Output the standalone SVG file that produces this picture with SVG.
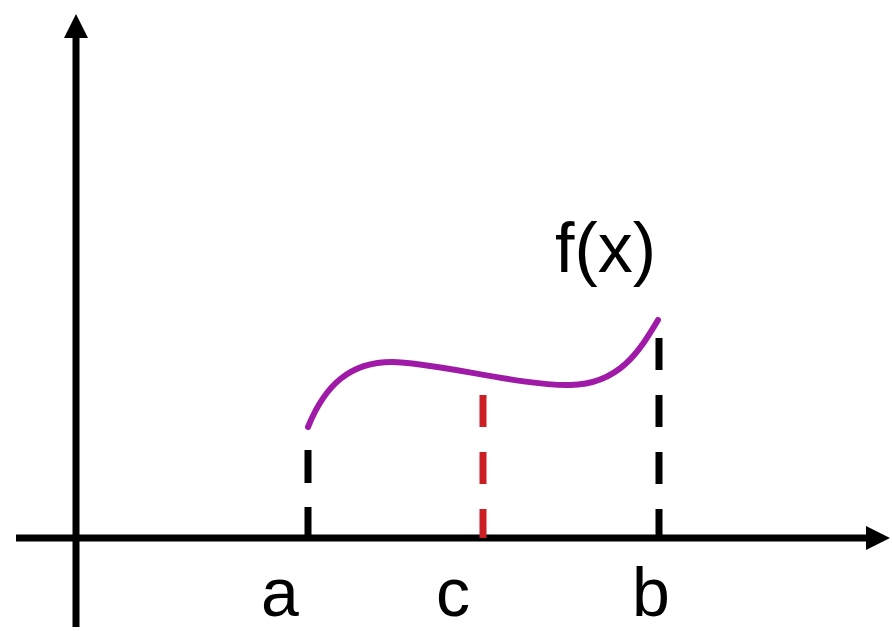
<svg xmlns="http://www.w3.org/2000/svg" width="892" height="631" viewBox="0 0 892 631">
  <style>
    .axis { stroke: #000; stroke-width: 7; fill: none; }
    .drop { stroke-width: 7; stroke-dasharray: 32 25; fill: none; }
    .lbl { font-family: "Liberation Sans", Arial, sans-serif; font-size: 70px; fill: #000; }
    .tick { font-size: 68px; }
  </style>
  <defs>
    <marker id="arrow" viewBox="0 0 24 24" markerWidth="24" markerHeight="24" refX="1" refY="12" orient="auto" markerUnits="userSpaceOnUse">
      <path d="M0,0 L24,12 L0,24 z" fill="#000"/>
    </marker>
  </defs>
  <rect width="892" height="631" fill="#fff"/>
  <g id="connectors">
    <line id="y-axis" class="axis" x1="76" y1="627" x2="76" y2="37" marker-end="url(#arrow)"/>
    <line id="x-axis" class="axis" x1="16" y1="538" x2="867" y2="538" marker-end="url(#arrow)"/>
    <line id="drop-a" class="drop" stroke="#000" x1="308" y1="450" x2="308" y2="538" style="stroke-dasharray:33 24"/>
    <line id="drop-c" class="drop" stroke="#cc1f24" x1="483" y1="395" x2="483" y2="538"/>
    <line id="drop-b" class="drop" stroke="#000" x1="659" y1="338" x2="659" y2="538"/>
  </g>
  <g id="curve">
    <path d="M308,427 C325,385 350,362 392,362 S520,386 570,385 S640,350 658,320" fill="none" stroke="#a01aa8" stroke-width="6" stroke-linecap="round"/>
  </g>
  <g id="labels">
    <text id="label-fx" class="lbl" x="555" y="272">f(x)</text>
    <text id="label-a" class="lbl tick" x="280" y="616" text-anchor="middle">a</text>
    <text id="label-c" class="lbl tick" x="453" y="616" text-anchor="middle">c</text>
    <text id="label-b" class="lbl tick" x="651" y="616" text-anchor="middle">b</text>
  </g>
</svg>
